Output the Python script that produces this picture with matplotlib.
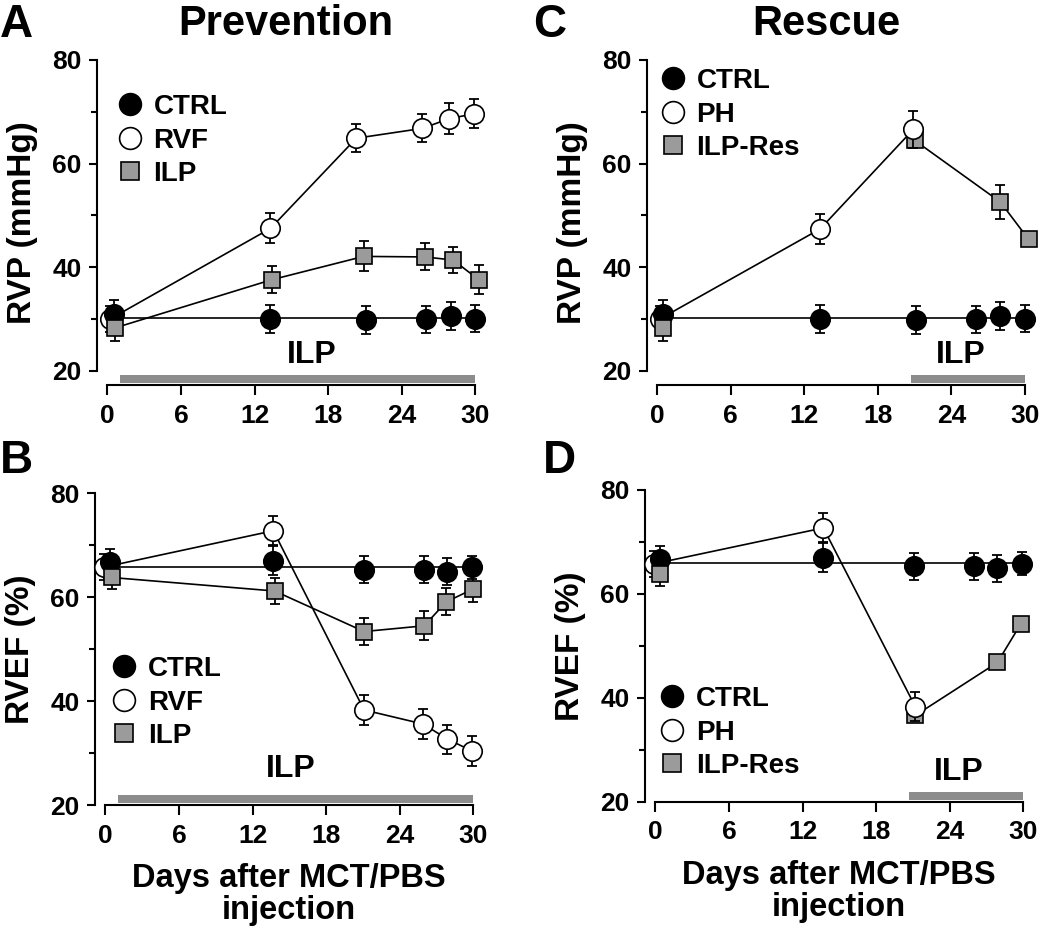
import matplotlib

matplotlib.use("Agg")
import matplotlib.pyplot as plt
import numpy as np

plt.rcParams["font.family"] = ["Liberation Sans", "DejaVu Sans"]
plt.rcParams["font.weight"] = "bold"

# ---- panel A / C : RVP (mmHg) ----
ctrl_days_rvp = [0.5, 13.3, 21.1, 26.0, 28.0, 30.0]
ctrl_rvp = [31.0, 30.1, 29.9, 30.0, 30.7, 30.1]
ctrl_rvp_err = [2.6, 2.7, 2.7, 2.6, 2.7, 2.6]

rvf_days_rvp = [0.2, 13.3, 20.3, 25.7, 27.9, 29.9]
rvf_rvp = [30.0, 47.5, 64.9, 66.8, 68.7, 69.6]
rvf_rvp_err = [2.5, 2.9, 2.7, 2.7, 2.9, 2.8]

ilp_days_rvp = [0.6, 13.4, 20.9, 25.9, 28.2, 30.3]
ilp_rvp = [28.3, 37.6, 42.1, 42.0, 41.4, 37.6]
ilp_rvp_err = [2.5, 2.6, 2.9, 2.6, 2.5, 2.8]

ph_days_rvp = [0.2, 13.3, 20.9]
ph_rvp = [30.0, 47.4, 66.6]
ph_rvp_err = [2.5, 2.9, 3.5]

res_days_rvp = [0.5, 21.0, 28.0, 30.3]
res_rvp = [28.3, 64.5, 52.6, 45.4]
res_rvp_err = [2.5, 1.0, 3.3, 0.8]

# ---- panel B / D : RVEF (%) ----
ctrl_days_ef = [0.4, 13.7, 21.1, 26.0, 27.9, 29.9]
ctrl_ef = [66.8, 67.0, 65.3, 65.3, 64.9, 65.8]
ctrl_ef_err = [2.5, 2.8, 2.6, 2.6, 2.6, 2.2]

rvf_days_ef = [-0.1, 13.7, 21.1, 25.9, 27.9, 29.9]
rvf_ef = [65.8, 72.8, 38.3, 35.6, 32.7, 30.4]
rvf_ef_err = [2.5, 2.8, 2.8, 2.9, 2.8, 2.9]

ilp_days_ef = [0.5, 13.8, 21.1, 26.0, 27.8, 30.0]
ilp_ef = [63.8, 61.2, 53.4, 54.5, 59.1, 61.6]
ilp_ef_err = [2.3, 2.5, 2.6, 2.8, 2.6, 2.6]

ph_days_ef = [-0.1, 13.7, 21.2]
ph_ef = [65.8, 72.7, 38.3]
ph_ef_err = [2.5, 2.8, 2.8]

res_days_ef = [0.4, 21.2, 27.9, 29.8]
res_ef = [63.9, 36.6, 46.8, 54.2]
res_ef_err = [2.4, 0.8, 0.8, 0.8]

# ILP treatment period (days)
prevention_period = (1.0, 30.0)
rescue_period = (20.7, 30.0)

x_ticks = [0, 6, 12, 18, 24, 30]
GRAY_BAR = "#8c8c8c"
GRAY_BOX = "#9b9b9b"

STYLES = {
    "ctrl": dict(marker="o", markersize=14, markerfacecolor="black"),
    "open": dict(marker="o", markersize=14, markerfacecolor="white"),
    "square": dict(marker="s", markersize=12, markerfacecolor=GRAY_BOX),
}


def draw_panel(ax, series, legend_order, ymin, period, ilp_pos, legend_anchor, ylabel, xlabel):
    x_start = min(s["days"][0] for s in series)
    handles = {}
    for s in series:
        days, vals, errs = np.array(s["days"]), np.array(s["vals"]), np.array(s["errs"])
        z = s["z"]
        if s["style"] == "ctrl":
            # control group drawn as a flat reference line at its mean
            ax.hlines(np.mean(vals), x_start, days[-1], color="black", lw=1.2, zorder=1)
        else:
            k = s.get("line_from", 0)
            ax.plot(days[k:], vals[k:], color="black", lw=1.2, zorder=1, clip_on=False)
        ax.errorbar(days, vals, yerr=errs, fmt="none", ecolor="black", elinewidth=1.3,
                    capsize=3.5, capthick=1.3, zorder=z - 0.5, clip_on=False)
        ax.plot(days[:1], vals[:1], ls="none", markeredgecolor="black", markeredgewidth=1.2,
                zorder=s.get("base_z", z), clip_on=False, **STYLES[s["style"]])
        (h,) = ax.plot(days[1:], vals[1:], ls="none", markeredgecolor="black",
                       markeredgewidth=1.2, zorder=z, clip_on=False, **STYLES[s["style"]])
        handles[s["label"]] = h

    ax.broken_barh([(period[0], period[1] - period[0])], (ymin + 0.35, 1.55),
                   facecolors=GRAY_BAR, zorder=1)
    ax.text(ilp_pos[0], ilp_pos[1], "ILP", ha="center", va="baseline", fontsize=23,
            fontweight="bold")

    ax.set_xlim(-0.85, 30.8)
    ax.set_ylim(ymin, 80)
    ax.set_xticks(x_ticks)
    ax.set_yticks([20, 40, 60, 80])
    ax.set_yticks([30, 50, 70], minor=True)
    for side in ("top", "right"):
        ax.spines[side].set_visible(False)
    for side in ("left", "bottom"):
        ax.spines[side].set_linewidth(1.5)
    ax.spines["left"].set_bounds(20, 80)
    ax.spines["bottom"].set_bounds(0, 30)
    ax.tick_params(axis="x", direction="out", length=7.5, width=1.5, pad=6, labelsize=19)
    ax.tick_params(axis="y", which="major", direction="out", length=6, width=1.5, pad=5,
                   labelsize=19)
    ax.tick_params(axis="y", which="minor", direction="out", length=4, width=1.5)
    ax.set_ylabel(ylabel, fontsize=24, fontweight="bold", labelpad=10)
    if xlabel:
        ax.set_xlabel(xlabel, fontsize=23.5, fontweight="bold", labelpad=11, linespacing=1.05)

    ax.legend([handles[k] for k in legend_order], legend_order, loc="upper left",
              bbox_to_anchor=legend_anchor, frameon=False, fontsize=20, handlelength=1.0,
              handletextpad=0.35, labelspacing=0.27, borderpad=0, borderaxespad=0,
              markerscale=1.12)


fig = plt.figure(figsize=(10.5, 9.31), dpi=100)
ax_a = fig.add_axes([0.0924, 0.5865, 0.3695, 0.3491])
ax_b = fig.add_axes([0.0905, 0.1353, 0.3695, 0.3348])
ax_c = fig.add_axes([0.6159, 0.5865, 0.3695, 0.3491])
ax_d = fig.add_axes([0.6143, 0.1389, 0.3695, 0.3348])

xlabel = "Days after MCT/PBS\ninjection"

draw_panel(ax_a, [
    dict(days=rvf_days_rvp, vals=rvf_rvp, errs=rvf_rvp_err, style="open", label="RVF", z=3),
    dict(days=ctrl_days_rvp, vals=ctrl_rvp, errs=ctrl_rvp_err, style="ctrl", label="CTRL", z=4),
    dict(days=ilp_days_rvp, vals=ilp_rvp, errs=ilp_rvp_err, style="square", label="ILP", z=5),
], ["CTRL", "RVF", "ILP"], 17.3, prevention_period, (16.7, 21.5), (0.049, 0.895),
    "RVP (mmHg)", None)

draw_panel(ax_b, [
    dict(days=rvf_days_ef, vals=rvf_ef, errs=rvf_ef_err, style="open", label="RVF", z=3),
    dict(days=ctrl_days_ef, vals=ctrl_ef, errs=ctrl_ef_err, style="ctrl", label="CTRL", z=4),
    dict(days=ilp_days_ef, vals=ilp_ef, errs=ilp_ef_err, style="square", label="ILP", z=5),
], ["CTRL", "RVF", "ILP"], 20, prevention_period, (15.1, 25.4), (0.039, 0.478),
    "RVEF (%)", xlabel)

draw_panel(ax_c, [
    dict(days=res_days_rvp, vals=res_rvp, errs=res_rvp_err, style="square", label="ILP-Res",
         z=3, base_z=6, line_from=1),
    dict(days=ph_days_rvp, vals=ph_rvp, errs=ph_rvp_err, style="open", label="PH", z=4),
    dict(days=ctrl_days_rvp, vals=ctrl_rvp, errs=ctrl_rvp_err, style="ctrl", label="CTRL", z=5),
], ["CTRL", "PH", "ILP-Res"], 17.3, rescue_period, (24.75, 21.5), (0.032, 0.975),
    "RVP (mmHg)", None)

draw_panel(ax_d, [
    dict(days=res_days_ef, vals=res_ef, errs=res_ef_err, style="square", label="ILP-Res",
         z=3, base_z=6, line_from=1),
    dict(days=ph_days_ef, vals=ph_ef, errs=ph_ef_err, style="open", label="PH", z=4),
    dict(days=ctrl_days_ef, vals=ctrl_ef, errs=ctrl_ef_err, style="ctrl", label="CTRL", z=5),
], ["CTRL", "PH", "ILP-Res"], 20, rescue_period, (24.75, 24.2), (0.034, 0.371),
    "RVEF (%)", xlabel)

ax_a.set_title("Prevention", fontsize=30, fontweight="bold", pad=18, x=0.487)
ax_c.set_title("Rescue", fontsize=30, fontweight="bold", pad=18, x=0.464)

for letter, x, y in [("A", 0.0, 0.9603), ("B", 0.0, 0.492), ("C", 0.508, 0.9603),
                     ("D", 0.517, 0.492)]:
    fig.text(x, y, letter, fontsize=33, fontweight="bold", ha="left", va="baseline")

fig.savefig("out.png", dpi=100)
plt.close(fig)
